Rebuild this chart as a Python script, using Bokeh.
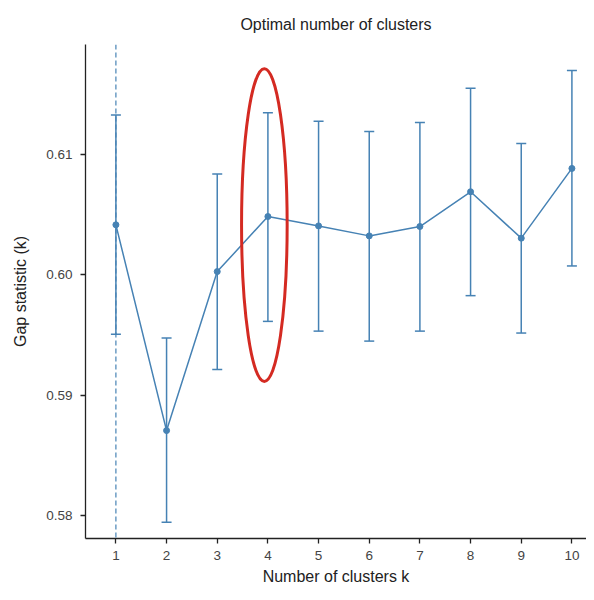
from bokeh.plotting import figure
from bokeh.models import Range1d, Whisker, ColumnDataSource, Span, FixedTicker, TeeHead, NumeralTickFormatter
from bokeh.embed import file_html
from bokeh.resources import INLINE

# ---- data ----
k = [1, 2, 3, 4, 5, 6, 7, 8, 9, 10]
gap = [0.60417, 0.58706, 0.60028, 0.60486, 0.60408, 0.60325, 0.60403, 0.60692, 0.60306, 0.60886]
upper = [0.61331, 0.59475, 0.60839, 0.61350, 0.61278, 0.61194, 0.61269, 0.61553, 0.61094, 0.61700]
lower = [0.59506, 0.57944, 0.59214, 0.59614, 0.59533, 0.59450, 0.59533, 0.59828, 0.59517, 0.60075]
y_ticks = [0.58, 0.59, 0.60, 0.61]
optimal_k = 1
highlight_x = 3.93
highlight_y = 0.60415
highlight_w = 0.9
highlight_h = 0.026

FONT = "Liberation Sans"
BLUE = "#4682B4"
RED = "#d42a22"

p = figure(width=586, height=592, output_backend="svg", toolbar_location=None,
           x_range=Range1d(0.4, 10.288), y_range=Range1d(0.578083, 0.619167),
           min_border_left=85, min_border_right=0, min_border_top=44, min_border_bottom=54)
p.outline_line_color = None
p.xgrid.grid_line_color = None
p.ygrid.grid_line_color = None
p.background_fill_color = "white"
p.border_fill_color = "white"

p.title.text = "Optimal number of clusters"
p.title.align = "center"
p.title.text_font = FONT
p.title.text_font_size = "16px"
p.title.text_font_style = "normal"
p.title.text_color = "#222222"
p.title.standoff = 24

src = ColumnDataSource(dict(k=k, gap=gap, upper=upper, lower=lower))

p.add_layout(Span(location=optimal_k, dimension="height", line_color=BLUE,
                  line_dash="5 3", line_width=1.2))

w = Whisker(base="k", upper="upper", lower="lower", source=src,
            line_color=BLUE, line_width=1.5,
            upper_head=TeeHead(size=10, line_color=BLUE, line_width=1.5),
            lower_head=TeeHead(size=10, line_color=BLUE, line_width=1.5))
p.add_layout(w)

p.line("k", "gap", source=src, line_color=BLUE, line_width=1.5)
p.scatter("k", "gap", source=src, size=6, color=BLUE)

p.ellipse(x=[highlight_x], y=[highlight_y], width=[highlight_w], height=[highlight_h],
          fill_color=None, line_color=RED, line_width=3)

for ax in (p.xaxis[0], p.yaxis[0]):
    ax.axis_line_color = "#222222"
    ax.axis_line_width = 1.3
    ax.major_tick_line_color = "#222222"
    ax.major_tick_line_width = 1.3
    ax.major_tick_out = 5
    ax.major_tick_in = 0
    ax.minor_tick_line_color = None
    ax.major_label_text_font = FONT
    ax.major_label_text_font_size = "13.5px"
    ax.major_label_text_color = "#444444"
    ax.axis_label_text_font = FONT
    ax.axis_label_text_font_size = "16px"
    ax.axis_label_text_font_style = "normal"
    ax.axis_label_text_color = "#222222"

p.xaxis.ticker = FixedTicker(ticks=k)
p.yaxis.ticker = FixedTicker(ticks=y_ticks)
p.yaxis.formatter = NumeralTickFormatter(format="0.00")
p.xaxis.axis_label = "Number of clusters k"
p.yaxis.axis_label = "Gap statistic (k)"
p.xaxis.major_label_standoff = 7
p.yaxis.major_label_standoff = 8
p.xaxis.axis_label_standoff = 5
p.yaxis.axis_label_standoff = 14

open("out.html", "w").write(file_html(p, INLINE))
